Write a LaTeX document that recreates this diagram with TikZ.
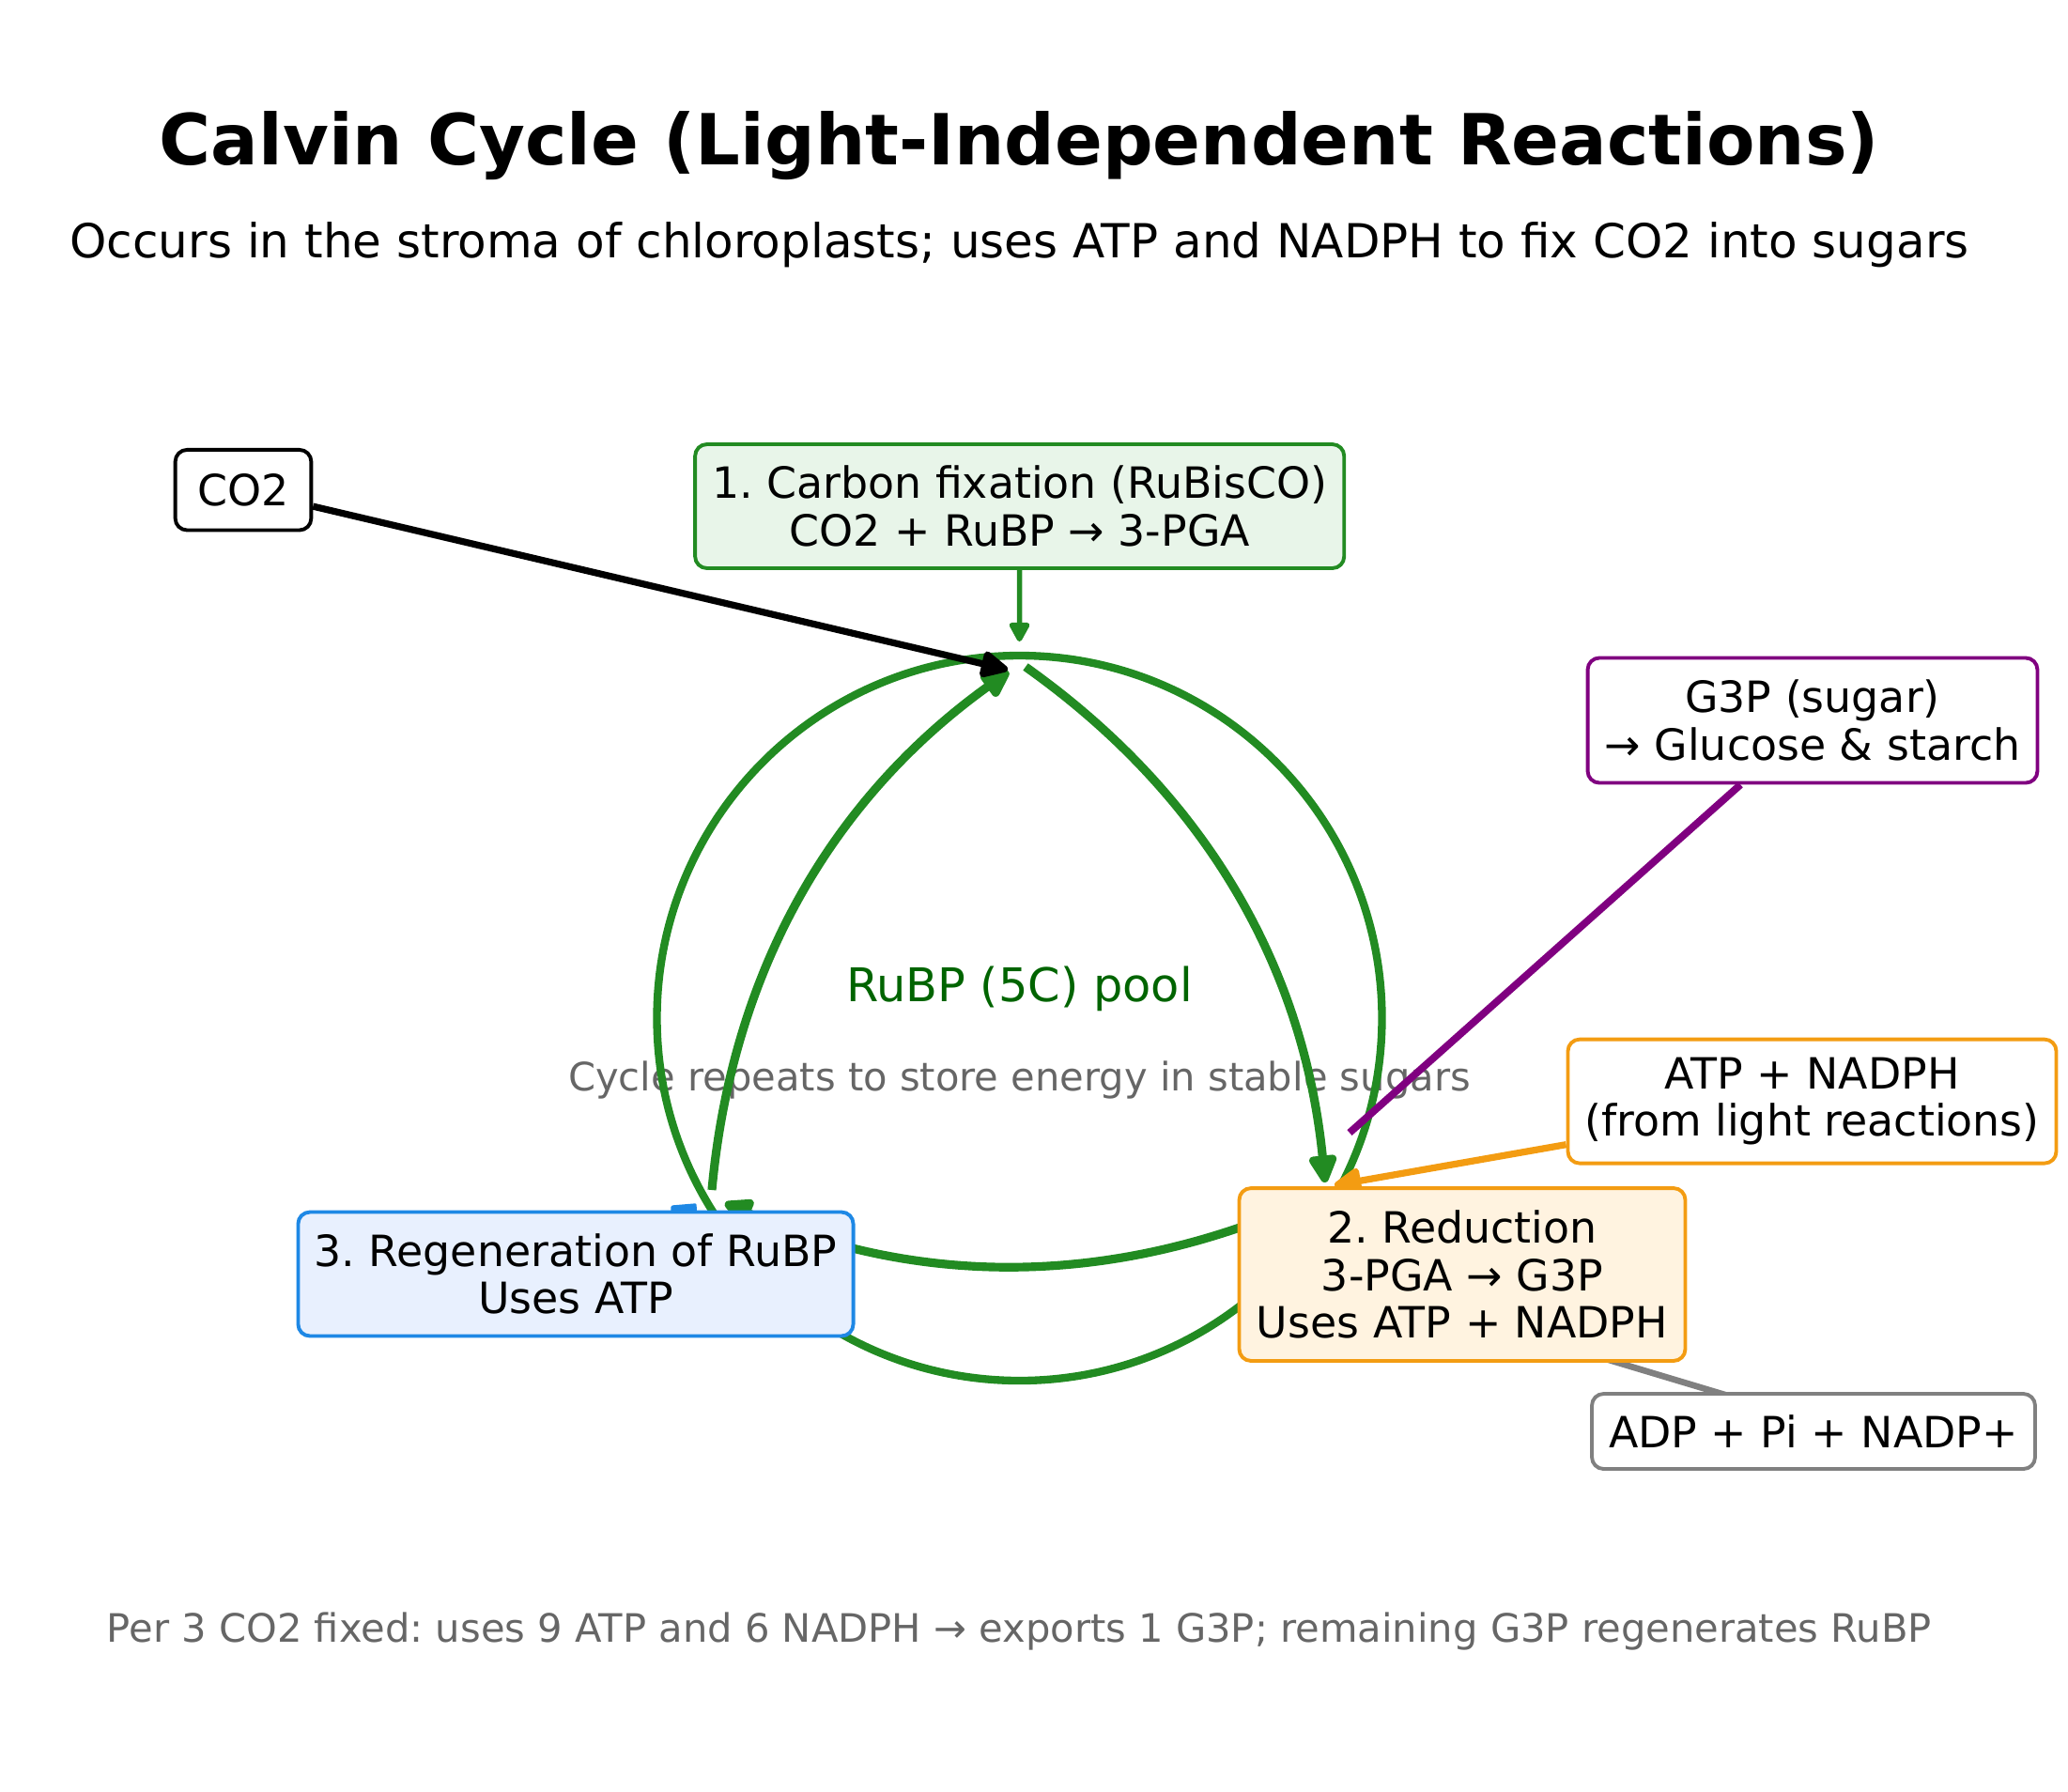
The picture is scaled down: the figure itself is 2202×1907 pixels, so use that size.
\documentclass[tikz,border=0pt]{standalone}
\usepackage{fontspec}
\setmainfont{DejaVu Sans}
\usetikzlibrary{arrows.meta}
\pgfdeclarelayer{bg}
\pgfsetlayers{bg,main}
\definecolor{fgreen}{HTML}{228B22}
\definecolor{dgreen}{HTML}{006400}
\definecolor{bonefill}{HTML}{E8F5E9}
\definecolor{btwofill}{HTML}{FFF3E0}
\definecolor{btwoline}{HTML}{F39C12}
\definecolor{bthreefill}{HTML}{E8F0FE}
\definecolor{bthreeline}{HTML}{1E88E5}
\definecolor{purp}{HTML}{800080}
\definecolor{grayl}{HTML}{808080}
\definecolor{grayt}{HTML}{666666}
\newcommand{\boxfont}{\fontsize{16.5pt}{18.2pt}\selectfont}
\newcommand{\smallgray}{\fontsize{15pt}{18pt}\selectfont}
\frenchspacing
\begin{document}
\begin{tikzpicture}[x=0.36pt,y=-0.36pt,line cap=round,
  box/.style={draw, rounded corners=4.5pt, line width=1.4pt, align=center, inner sep=0pt, font=\boxfont},
  cyc/.style={fgreen, line width=3.3pt, -{Triangle[length=12.5pt,width=11.5pt,round]}},
  bigarr/.style={line width=2.6pt, -{Triangle[length=12pt,width=11pt,round]}}]
\useasboundingbox (0,0) rectangle (2202,1907);
% boxes
\node[box, draw=black, fill=white, minimum width=52.1pt, minimum height=30.8pt] (co2) at (259,521.7) {CO2};
\node[box, draw=fgreen, fill=bonefill, minimum width=248.8pt, minimum height=47.5pt] (b1) at (1085.7,539) {1. Carbon fixation (RuBisCO)\\CO2 + RuBP → 3-PGA};
\node[box, draw=btwoline, fill=btwofill, minimum width=171pt, minimum height=66.2pt] (b2) at (1557,1357) {2. Reduction\\3-PGA → G3P\\Uses ATP + NADPH};
\node[box, draw=bthreeline, fill=bthreefill, minimum width=212.8pt, minimum height=47.5pt] (b3) at (613,1356.5) {3. Regeneration of RuBP\\Uses ATP};
\node[box, draw=purp, fill=white, minimum width=172.4pt, minimum height=47.9pt] (g3p) at (1930,767) {G3P (sugar)\\→ Glucose \& starch};
\node[box, draw=btwoline, fill=white, minimum width=187.2pt, minimum height=47.5pt] (atp) at (1929.5,1172.6) {ATP + NADPH\\(from light reactions)};
\node[box, draw=grayl, fill=white, minimum width=169.9pt, minimum height=28.8pt] (adp) at (1931,1524) {ADP + Pi + NADP+};
\begin{pgfonlayer}{bg}
\node[anchor=base, font=\fontsize{27pt}{32pt}\selectfont\bfseries] (title) at (1085.5,175) {Calvin Cycle (Light-Independent Reactions)};
\node[anchor=base, font=\fontsize{18pt}{22pt}\selectfont] (sub) at (1085.5,274) {Occurs in the stroma of chloroplasts; uses ATP and NADPH to fix CO2 into sugars};
\node[anchor=base, text=dgreen, font=\fontsize{17.8pt}{22pt}\selectfont] (pool) at (1085.5,1066) {RuBP (5C) pool};
\node[anchor=base, text=grayt, font=\smallgray] (rep) at (1085.5,1161) {Cycle repeats to store energy in stable sugars};
\node[anchor=base, text=grayt, font=\smallgray] (foot) at (1085.5,1748) {Per 3 CO2 fixed: uses 9 ATP and 6 NADPH → exports 1 G3P; remaining G3P regenerates RuBP};
% cycle ring
\coordinate (cc) at (1085.5,1084);
\draw[fgreen, line width=3pt] (cc) circle[radius=138.96pt];
% cycle arrows
\coordinate (sa) at (1092,710);
\coordinate (ta) at (1411,1259);
\coordinate (sb) at (758,1267);
\coordinate (tb) at (1074,715);
\coordinate (sc) at (1415,1268);
\coordinate (tc) at (772,1281);
\draw[cyc] (sa) .. controls (1281.7,844.5) and (1388,1027.5) .. (ta);
\draw[cyc] (sc) .. controls (1202.3,1369.7) and (988,1374) .. (tc);
\draw[cyc] (sb) .. controls (779.3,1035) and (884.7,851) .. (tb);
\fill[bthreeline, draw=bthreeline, line width=1.2pt, line join=round] (716,1285) -- (740,1283) -- (741,1310) -- (717,1310) -- cycle;
% side connectors
\coordinate (pend) at (1437,1206);
\coordinate (otip) at (1421,1262);
\coordinate (ga) at (1690,1441);
\coordinate (gb) at (1850,1489);
\coordinate (vtip) at (1085.5,683);
\coordinate (ctip) at (1073,713);
\draw[purp, line width=2.8pt] (g3p) -- (pend);
\draw[btwoline, bigarr] (atp) -- (otip);
\draw[grayl, line width=2.4pt] (ga) -- (gb);
\draw[fgreen, line width=2pt, -{Triangle[length=8.5pt,width=8.5pt,round]}] (b1.south) -- (vtip);
\draw[black, bigarr] (co2) -- (ctip);
\end{pgfonlayer}
\end{tikzpicture}
\end{document}
